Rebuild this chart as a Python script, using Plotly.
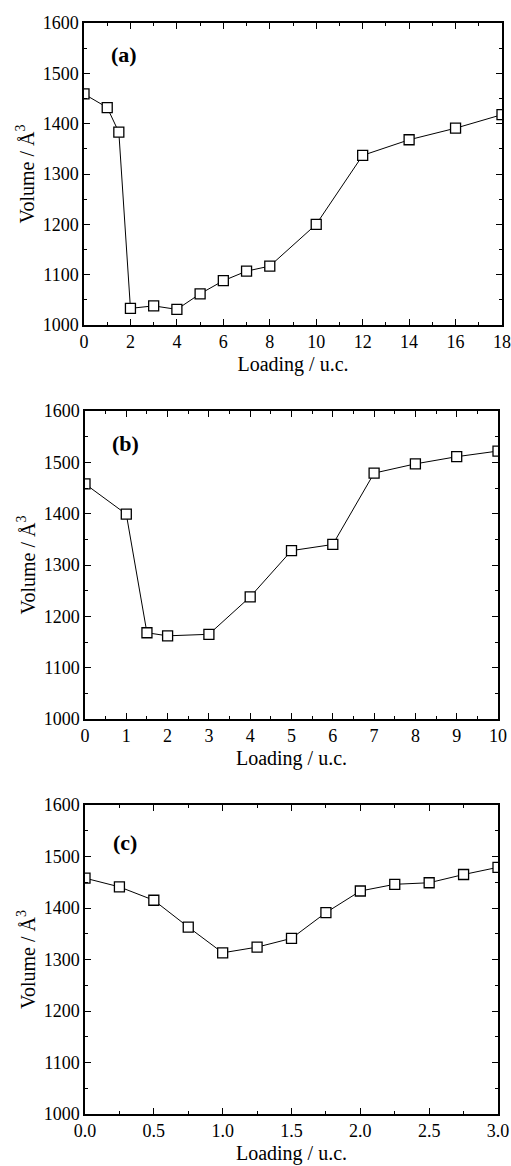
import plotly.graph_objects as go

# Panel (a)
xa = [0, 1, 1.5, 2, 3, 4, 5, 6, 7, 8, 10, 12, 14, 16, 18]
ya = [1459, 1432, 1383, 1033, 1038, 1031, 1062, 1088, 1107, 1117, 1200, 1337, 1368, 1391, 1418]
# Panel (b)
xb = [0, 1, 1.5, 2, 3, 4, 5, 6, 7, 8, 9, 10]
yb = [1458, 1399, 1168, 1162, 1165, 1238, 1328, 1340, 1479, 1497, 1511, 1522]
# Panel (c)
xc = [0, 0.25, 0.5, 0.75, 1.0, 1.25, 1.5, 1.75, 2.0, 2.25, 2.5, 2.75, 3.0]
yc = [1458, 1441, 1415, 1363, 1313, 1324, 1341, 1391, 1433, 1446, 1449, 1465, 1479]

labels = ["(a)", "(b)", "(c)"]
x_title = "Loading / u.c."
y_title = "Volume / Å<sup>3</sup>"

W, H = 511, 1166
FONT = "Liberation Serif"

panels = [
    dict(x=xa, y=ya, xr=[0, 18], dt=2, mdt=1, fmt="d", xd=[84, 502], yd=[23, 325], lab=(0.096, 0.897)),
    dict(x=xb, y=yb, xr=[0, 10], dt=1, mdt=0.5, fmt="d", xd=[85, 498], yd=[411, 719], lab=(0.098, 0.893)),
    dict(x=xc, y=yc, xr=[0, 3], dt=0.5, mdt=0.25, fmt=".1f", xd=[85, 498], yd=[805, 1114], lab=(0.098, 0.880)),
]

fig = go.Figure()
layout = dict(
    template="none",
    width=W, height=H,
    margin=dict(l=0, r=0, t=0, b=0, pad=0),
    paper_bgcolor="white", plot_bgcolor="white",
    showlegend=False,
    font=dict(family=FONT, color="black", size=18),
    annotations=[],
)

for i, p in enumerate(panels):
    n = "" if i == 0 else str(i + 1)
    fig.add_trace(go.Scatter(
        x=p["x"], y=p["y"], mode="lines+markers",
        line=dict(color="black", width=1),
        marker=dict(symbol="square", size=10, color="white",
                    line=dict(color="black", width=1.3)),
        xaxis="x" + n, yaxis="y" + n, cliponaxis=True,
    ))
    common = dict(
        showgrid=False, zeroline=False, showline=True, linecolor="black",
        linewidth=1.5, mirror="ticks", ticks="inside", ticklen=6, tickwidth=1.2,
        tickcolor="black", tickfont=dict(family=FONT, size=18, color="black"),
        automargin=False,
    )
    layout["xaxis" + n] = dict(
        common, range=p["xr"], dtick=p["dt"], tick0=0, tickformat=p["fmt"],
        domain=[p["xd"][0] / W, p["xd"][1] / W], anchor="y" + n,
        minor=dict(dtick=p["mdt"], ticks="inside", ticklen=3, tickwidth=1, tickcolor="black"),
        title=dict(text=x_title, font=dict(family=FONT, size=20, color="black"), standoff=6),
    )
    layout["yaxis" + n] = dict(
        common, range=[1000, 1600], dtick=100, tick0=1000,
        domain=[1 - p["yd"][1] / H, 1 - p["yd"][0] / H], anchor="x" + n,
        minor=dict(dtick=50, ticks="inside", ticklen=3, tickwidth=1, tickcolor="black"),
        title=dict(text=y_title, font=dict(family=FONT, size=20, color="black"), standoff=3),
    )
    layout["annotations"].append(dict(
        text="<b>" + labels[i] + "</b>", xref="x" + n + " domain", yref="y" + n + " domain",
        x=p["lab"][0], y=p["lab"][1], xanchor="center", yanchor="middle",
        showarrow=False, font=dict(family=FONT, size=22, color="black"),
    ))

fig.update_layout(**layout)
fig.write_html("out.html")
